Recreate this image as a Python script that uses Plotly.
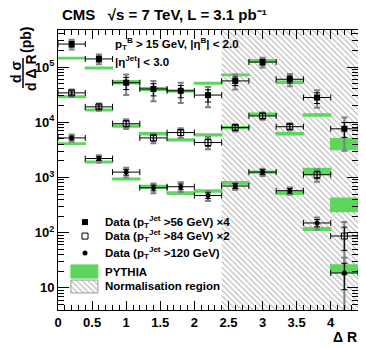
import plotly.graph_objects as go

# bins in Delta R
edges = [0.0, 0.4, 0.8, 1.2, 1.6, 2.0, 2.4, 2.8, 3.2, 3.6, 4.0, 4.4]
centers = [(a + b) / 2 for a, b in zip(edges[:-1], edges[1:])]
norm_region = [2.4, 4.4]

# data as plotted (already scaled x4, x2, x1)
data_56 = [2.6e5, 1.4e5, 5.2e4, 4.0e4, 3.7e4, 3.1e4, 5.6e4, 1.23e5, 6.0e4, 2.8e4, 7.6e3]
data_84 = [3.4e4, 1.9e4, 9.4e3, 5.2e3, 6.5e3, 4.3e3, 8.0e3, 1.3e4, 8.3e3, 1.12e3, 87]
data_120 = [5.2e3, 2.2e3, 1.25e3, 650, 680, 470, 700, 1.25e3, 575, 150, 18.6]

# relative uncertainties: stat (black) and total (grey)
stat_56 = [0.12, 0.12, 0.25, 0.25, 0.25, 0.25, 0.18, 0.12, 0.15, 0.22, 0.3]
tot_56 = [0.2, 0.2, 0.4, 0.4, 0.4, 0.4, 0.3, 0.2, 0.25, 0.35, 0.6]
stat_84 = [0.08, 0.08, 0.12, 0.12, 0.12, 0.15, 0.1, 0.1, 0.1, 0.15, 0.45]
tot_84 = [0.15, 0.15, 0.2, 0.2, 0.2, 0.25, 0.15, 0.15, 0.15, 0.25, 0.8]
stat_120 = [0.08, 0.08, 0.12, 0.12, 0.12, 0.12, 0.1, 0.1, 0.1, 0.15, 0.5]
tot_120 = [0.15, 0.15, 0.2, 0.2, 0.2, 0.2, 0.15, 0.15, 0.15, 0.25, 0.9]

# PYTHIA prediction and its relative uncertainty
pythia_56 = [1.45e5, 9.6e4, 5.3e4, 4.0e4, 3.7e4, 5.1e4, 7.2e4, 1.3e5, 5.3e4, 1.35e4, 4.1e3]
punc_56 = [0.03, 0.03, 0.06, 0.05, 0.04, 0.03, 0.03, 0.04, 0.04, 0.04, 0.22]
pythia_84 = [2.9e4, 1.66e4, 8.5e3, 6.2e3, 4.8e3, 5.9e3, 8.0e3, 1.4e4, 6.2e3, 1.3e3, 330]
punc_84 = [0.03, 0.03, 0.04, 0.04, 0.04, 0.04, 0.04, 0.04, 0.04, 0.12, 0.27]
pythia_120 = [4.1e3, 1.9e3, 940, 680, 520, 570, 800, 1.25e3, 520, 117, 22.5]
punc_120 = [0.03, 0.03, 0.03, 0.05, 0.05, 0.04, 0.05, 0.04, 0.05, 0.05, 0.15]

y_lo, y_hi = 10 ** 0.6, 10 ** 5.67
GREEN = "#5cd65c"
FONT = "Liberation Sans"
HATCH = dict(shape="\\", fgcolor="#5a5a5a", bgcolor="white", size=4, solidity=0.25)

fig = go.Figure()

# normalisation region hatch
fig.add_trace(go.Scatter(
    x=[norm_region[0], norm_region[1], norm_region[1], norm_region[0], norm_region[0]],
    y=[y_lo, y_lo, y_hi, y_hi, y_lo], mode="none", fill="toself",
    fillpattern=HATCH, hoverinfo="skip", showlegend=False))

# PYTHIA bands
for vals, unc in [(pythia_56, punc_56), (pythia_84, punc_84), (pythia_120, punc_120)]:
    xs, ys = [], []
    for i, v in enumerate(vals):
        lo, hi = v * (1 - unc[i]), v * (1 + unc[i])
        xs += [edges[i], edges[i + 1], edges[i + 1], edges[i], edges[i], None]
        ys += [lo, lo, hi, hi, lo, None]
    fig.add_trace(go.Scatter(x=xs, y=ys, mode="lines", fill="toself",
                             fillcolor=GREEN, line=dict(color=GREEN, width=1.5),
                             hoverinfo="skip", showlegend=False))

# data points
series = [
    (data_56, stat_56, tot_56, dict(symbol="square", size=6, color="black")),
    (data_84, stat_84, tot_84, dict(symbol="square-open", size=6, color="black",
                                    line=dict(width=1))),
    (data_120, stat_120, tot_120, dict(symbol="circle", size=5, color="black")),
]
for vals, st, tot, mk in series:
    fig.add_trace(go.Scatter(
        x=centers, y=vals, mode="markers", marker=dict(size=0.1, color="#808080"),
        error_y=dict(type="data", array=[v * e for v, e in zip(vals, tot)],
                     color="#808080", thickness=2, width=3),
        hoverinfo="skip", showlegend=False))
    fig.add_trace(go.Scatter(
        x=centers, y=vals, mode="markers", marker=mk,
        error_x=dict(type="constant", value=0.2, color="black", thickness=1, width=3),
        error_y=dict(type="data", array=[v * e for v, e in zip(vals, st)],
                     color="black", thickness=1, width=3),
        showlegend=False))

# custom legend on an overlay axis
fig.add_trace(go.Scatter(x=[0.09], y=[0.314], mode="markers", xaxis="x2", yaxis="y2",
                         marker=dict(symbol="square", size=6, color="black"), showlegend=False))
fig.add_trace(go.Scatter(x=[0.09], y=[0.264], mode="markers", xaxis="x2", yaxis="y2",
                         marker=dict(symbol="square-open", size=6, color="black"), showlegend=False))
fig.add_trace(go.Scatter(x=[0.09], y=[0.204], mode="markers", xaxis="x2", yaxis="y2",
                         marker=dict(symbol="circle", size=5, color="black"), showlegend=False))
fig.add_trace(go.Scatter(x=[0.043, 0.133, 0.133, 0.043, 0.043], y=[0.114, 0.114, 0.161, 0.161, 0.114],
                         xaxis="x2", yaxis="y2", mode="lines", fill="toself", fillcolor=GREEN,
                         line=dict(color=GREEN, width=1), showlegend=False))
fig.add_trace(go.Scatter(x=[0.043, 0.133, 0.133, 0.043, 0.043], y=[0.061, 0.061, 0.107, 0.107, 0.061],
                         xaxis="x2", yaxis="y2", mode="lines", fill="toself", fillpattern=HATCH,
                         line=dict(color="#999999", width=1), showlegend=False))

legend_rows = [
    ("Data (p<sub>T</sub><sup>Jet</sup> >56 GeV) ×4", 0.314),
    ("Data (p<sub>T</sub><sup>Jet</sup> >84 GeV) ×2", 0.264),
    ("Data (p<sub>T</sub><sup>Jet</sup> >120 GeV)", 0.204),
    ("PYTHIA", 0.136),
    ("Normalisation region", 0.086),
]
ann = []
for txt, yy in legend_rows:
    ann.append(dict(x=0.15, y=yy, xref="paper", yref="paper", text=txt, showarrow=False,
                    xanchor="left", yanchor="middle",
                    font=dict(family=FONT, size=11.5, color="black", weight="bold")))


def px(xp, yp):
    # page pixel -> paper coordinates of the plot area (page x 58..358, y 30..310)
    return (xp - 58) / 300.0, (310 - yp) / 280.0


bold = dict(family=FONT, color="black", weight="bold")
x0, y0 = px(60, 15)
ann.append(dict(x=x0, y=y0, xref="paper", yref="paper", showarrow=False, xanchor="left",
                yanchor="middle", text="CMS   √s = 7 TeV, L = 3.1 pb⁻¹",
                font=dict(size=15, **bold)))
x0, y0 = px(113, 44)
ann.append(dict(x=x0, y=y0, xref="paper", yref="paper", showarrow=False, xanchor="left",
                yanchor="middle", text="p<sub>T</sub><sup>B</sup> > 15 GeV, |η<sup>B</sup>| < 2.0",
                font=dict(size=11.5, **bold)))
x0, y0 = px(113, 61)
ann.append(dict(x=x0, y=y0, xref="paper", yref="paper", showarrow=False, xanchor="left",
                yanchor="middle", text="|η<sup>Jet</sup>| < 3.0",
                font=dict(size=11.5, **bold)))
# y axis title as a fraction
for txt, xp, yp in [("d σ", 16, 72), ("d Δ R", 31, 73), ("(pb)", 26, 40)]:
    x0, y0 = px(xp, yp)
    ann.append(dict(x=x0, y=y0, xref="paper", yref="paper", showarrow=False, textangle=-90,
                    xanchor="center", yanchor="middle", text=txt, font=dict(size=14, **bold)))
x0, y0 = px(359, 337)
ann.append(dict(x=x0, y=y0, xref="paper", yref="paper", showarrow=False, xanchor="right",
                yanchor="middle", text="Δ R", font=dict(size=14, **bold)))

fx, fy0 = px(23, 58)
_, fy1 = px(23, 88)

major_y = [10, 100, 1000, 10000, 100000]
major_txt = ["10", "10<sup>2</sup>", "10<sup>3</sup>", "10<sup>4</sup>", "10<sup>5</sup>"]
minor_y = [m * 10 ** k for k in range(0, 6) for m in range(2, 10)]

# the page adds an 8px body margin, so the figure is 8px smaller and shifted
fig.update_layout(
    width=358, height=340,
    margin=dict(l=50, r=8, t=22, b=38),
    plot_bgcolor="white", paper_bgcolor="white",
    annotations=ann,
    shapes=[dict(type="line", xref="paper", yref="paper", x0=fx, x1=fx, y0=fy0, y1=fy1,
                 line=dict(color="black", width=1.5))],
    xaxis=dict(range=[0, 4.4], dtick=0.5, ticks="inside", ticklen=9, tickcolor="black",
               showline=True, linecolor="black", linewidth=1, mirror="ticks",
               showgrid=False, zeroline=False,
               minor=dict(dtick=0.1, ticks="inside", ticklen=5, tickcolor="black", showgrid=False),
               tickfont=dict(size=13, **bold)),
    yaxis=dict(type="log", range=[0.6, 5.67], tickmode="array", tickvals=major_y, ticktext=major_txt,
               ticks="inside", ticklen=11, tickcolor="black",
               showline=True, linecolor="black", linewidth=1, mirror="ticks",
               showgrid=False, zeroline=False,
               minor=dict(tickmode="array", tickvals=minor_y, ticks="inside", ticklen=6,
                          tickcolor="black", showgrid=False),
               tickfont=dict(size=13, **bold)),
    xaxis2=dict(range=[0, 1], overlaying="x", visible=False, fixedrange=True),
    yaxis2=dict(range=[0, 1], overlaying="y", visible=False, fixedrange=True),
    showlegend=False,
)

fig.write_html("out.html")
